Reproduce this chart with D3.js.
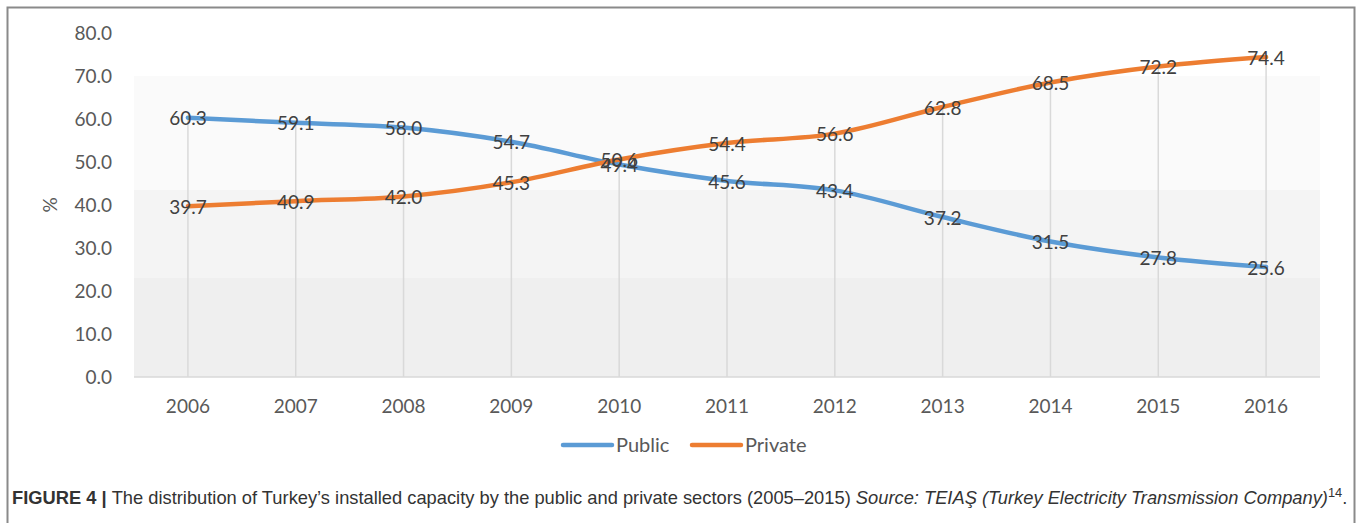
<!DOCTYPE html>
<html>
<head>
<meta charset="utf-8">
<script src="https://cdn.jsdelivr.net/npm/d3@7"></script>
<style>
  body { margin: 0; background: #fff; }
  svg { display: block; }
</style>
</head>
<body>
<svg width="1360" height="523"></svg>
<script>
var years = ['2006', '2007', '2008', '2009', '2010', '2011', '2012', '2013', '2014', '2015', '2016'];
var publicShare = [60.3, 59.1, 58.0, 54.7, 49.4, 45.6, 43.4, 37.2, 31.5, 27.8, 25.6];
var privateShare = [39.7, 40.9, 42.0, 45.3, 50.6, 54.4, 56.6, 62.8, 68.5, 72.2, 74.4];
var yTicks = [0, 10, 20, 30, 40, 50, 60, 70, 80];
var seriesNames = ['Public', 'Private'];

var svg = d3.select('svg');
var font = 'Lato, "Open Sans", sans-serif';
var colors = { Public: '#5b9bd5', Private: '#ed7d31' };

// outer frame
svg.append('rect')
   .attr('x', 7.5).attr('y', 7.5)
   .attr('width', 1347).attr('height', 530)
   .attr('fill', 'none')
   .attr('stroke', '#8a8a8a')
   .attr('stroke-width', 2);

var x = d3.scalePoint().domain(years).range([134, 1320]).padding(0.5);
var y = d3.scaleLinear().domain([0, 80]).range([377, 33]);

// plot background bands
var defs = svg.append('defs');
var grad = defs.append('linearGradient')
   .attr('id', 'bg').attr('x1', 0).attr('y1', 0).attr('x2', 0).attr('y2', 1);
[[0, '#fafafa'], [0.38, '#fafafa'], [0.38, '#f4f4f4'], [0.67, '#f4f4f4'], [0.67, '#efefef'], [1, '#efefef']]
  .forEach(function (s) {
    grad.append('stop').attr('offset', s[0]).attr('stop-color', s[1]);
  });
svg.append('rect')
   .attr('x', 134).attr('y', y(70))
   .attr('width', 1320 - 134).attr('height', y(0) - y(70))
   .attr('fill', 'url(#bg)');

// drop lines
svg.append('g').selectAll('line')
   .data(years)
   .join('line')
   .attr('x1', function (d) { return x(d); })
   .attr('x2', function (d) { return x(d); })
   .attr('y1', y(0))
   .attr('y2', function (d, i) { return y(Math.max(publicShare[i], privateShare[i])); })
   .attr('stroke', '#d9d9d9')
   .attr('stroke-width', 1.5);

// x axis line
svg.append('line')
   .attr('x1', 134).attr('x2', 1320)
   .attr('y1', y(0)).attr('y2', y(0))
   .attr('stroke', '#d9d9d9').attr('stroke-width', 1.5);

// y axis labels
svg.append('g').selectAll('text')
   .data(yTicks)
   .join('text')
   .attr('x', 112)
   .attr('y', function (d) { return y(d); })
   .attr('dy', '0.35em')
   .attr('text-anchor', 'end')
   .attr('font-family', font)
   .attr('font-size', '19px')
   .attr('fill', '#595959')
   .text(function (d) { return d.toFixed(1); });

svg.append('text')
   .attr('transform', 'translate(50,' + y(40) + ') rotate(-90)')
   .attr('text-anchor', 'middle')
   .attr('dy', '0.35em')
   .attr('font-family', font)
   .attr('font-size', '19px')
   .attr('fill', '#595959')
   .text('%');

// x axis labels
svg.append('g').selectAll('text')
   .data(years)
   .join('text')
   .attr('x', function (d) { return x(d); })
   .attr('y', 406)
   .attr('dy', '0.35em')
   .attr('text-anchor', 'middle')
   .attr('font-family', font)
   .attr('font-size', '19px')
   .attr('fill', '#595959')
   .text(function (d) { return d; });

var series = [
  { name: 'Public', values: publicShare },
  { name: 'Private', values: privateShare }
];

var line = d3.line()
   .x(function (d, i) { return x(years[i]); })
   .y(function (d) { return y(d); })
   .curve(d3.curveCatmullRom.alpha(0.5));

svg.append('g').selectAll('path')
   .data(series)
   .join('path')
   .attr('d', function (s) { return line(s.values); })
   .attr('fill', 'none')
   .attr('stroke', function (s) { return colors[s.name]; })
   .attr('stroke-width', 4.5)
   .attr('stroke-linecap', 'round');

// data labels (the 2010 pair overlaps in the original too)
series.forEach(function (s) {
  svg.append('g').selectAll('text')
     .data(s.values)
     .join('text')
     .attr('x', function (d, i) { return x(years[i]); })
     .attr('y', function (d) { return y(d); })
     .attr('dy', '0.4em')
     .attr('text-anchor', 'middle')
     .attr('font-family', font)
     .attr('font-size', '19px')
     .attr('fill', '#404040')
     .text(function (d) { return d.toFixed(1); });
});

// legend
var legendX = [563, 692];
var legend = svg.append('g').selectAll('g')
   .data(seriesNames)
   .join('g')
   .attr('transform', function (d, i) { return 'translate(' + legendX[i] + ',445)'; });
legend.append('line')
   .attr('x1', 0).attr('x2', 49)
   .attr('stroke', function (d) { return colors[d]; })
   .attr('stroke-width', 4.5)
   .attr('stroke-linecap', 'round');
legend.append('text')
   .attr('x', 53)
   .attr('dy', '0.35em')
   .attr('font-family', font)
   .attr('font-size', '20px')
   .attr('fill', '#595959')
   .text(function (d) { return d; });

// caption
var cap = svg.append('text')
   .attr('x', 12)
   .attr('y', 504)
   .attr('font-family', '"Liberation Sans", Arial, sans-serif')
   .attr('font-size', '15.5px')
   .attr('fill', '#333');
cap.append('tspan').attr('font-weight', 'bold').text('FIGURE 4 | ');
cap.append('tspan').text('The distribution of Turkey\u2019s installed capacity by the public and private sectors (2005\u20132015) ');
cap.append('tspan').attr('font-style', 'italic').text('Source: TEIA\u015e (Turkey Electricity Transmission Company)');
cap.append('tspan').attr('dy', -7).attr('font-size', '0.7em').text('14');
cap.append('tspan').attr('dy', 7).text('.');

// fit caption to the frame width, like the original
var w = cap.node().getComputedTextLength();
cap.attr('font-size', (15.5 * 1336 / w) + 'px');
</script>
</body>
</html>
